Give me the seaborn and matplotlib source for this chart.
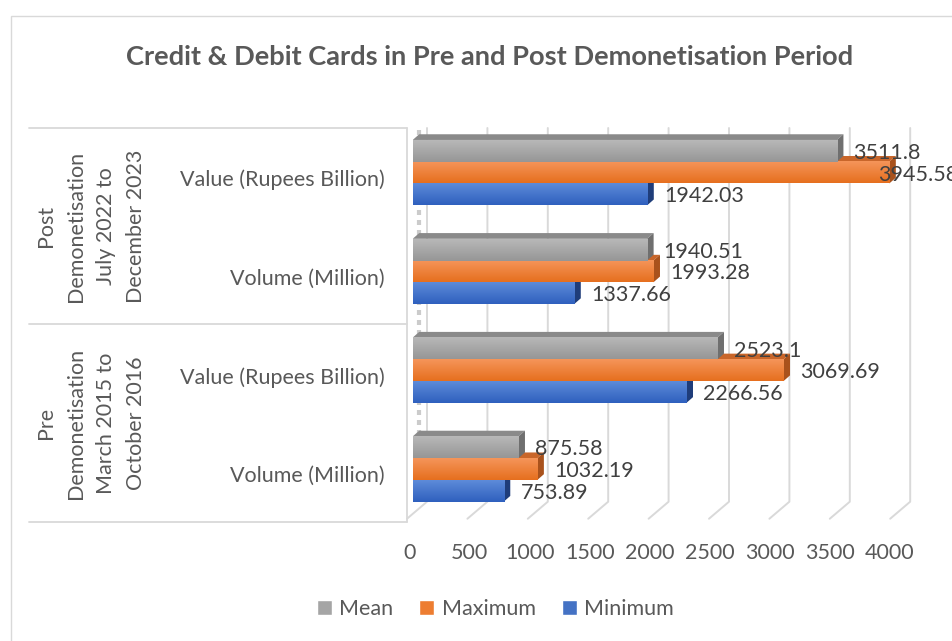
import numpy as np
import pandas as pd
import seaborn as sns
import matplotlib.pyplot as plt
from matplotlib.colors import LinearSegmentedColormap
from matplotlib.lines import Line2D
from matplotlib.patches import Patch, Polygon, Rectangle
from matplotlib.transforms import ScaledTranslation

# --- 1. Data (top to bottom, as in the chart) ---
periods = ["Post\nDemonetisation\nJuly 2022 to\nDecember 2023",
           "Pre\nDemonetisation\nMarch 2015 to\nOctober 2016"]
measures = ["Value (Rupees Billion)", "Volume (Million)"]
series = ["Mean", "Maximum", "Minimum"]
mean_vals = [3511.8, 1940.51, 2523.1, 875.58]
max_vals = [3945.58, 1993.28, 3069.69, 1032.19]
min_vals = [1942.03, 1337.66, 2266.56, 753.89]
xticks = [0, 500, 1000, 1500, 2000, 2500, 3000, 3500, 4000]

rows = [p.split("\n")[0] + " | " + m for p in periods for m in measures]
df = pd.DataFrame({
    "row": rows * 3,
    "series": np.repeat(series, len(rows)),
    "value": mean_vals + max_vals + min_vals,
})

# --- 2. Styling ---
front = {"Mean": "#A5A5A5", "Maximum": "#ED7D31", "Minimum": "#4472C4"}
grad = {"Mean": ("#B8B8B8", "#969696"),
        "Maximum": ("#F5955A", "#E66F1E"),
        "Minimum": ("#5D8BD9", "#2F60BE")}
top_face = {"Mean": "#8A8A8A", "Maximum": "#C9662A", "Minimum": "#2E56A0"}
side_face = {"Mean": "#6F6F6F", "Maximum": "#A9521C", "Minimum": "#1F3D7A"}
FS = 15.5

sns.set_theme(style="white")
plt.rcParams["font.family"] = ["Lato", "DejaVu Sans"]

W, H = 953, 641
fig = plt.figure(figsize=(W / 100, H / 100), dpi=100)


def fx(px):
    return px / W


def fy(py):
    return 1 - py / H


# plot area in pixels
x0_px, x1_px = 412.7, 895.9
top_px, bot_px = 128.0, 521.7
ax = fig.add_axes([fx(x0_px), fy(bot_px), (x1_px - x0_px) / W, (bot_px - top_px) / H])

sns.barplot(data=df, x="value", y="row", hue="series", order=rows, hue_order=series,
            orient="h", width=0.66, palette=front, saturation=1, errorbar=None,
            legend=False, ax=ax)

xmax = 4000
ylim = (3.533, -0.451)
ax.set_xlim(0, xmax)
ax.set_ylim(*ylim)
ax.set_xlabel("")
ax.set_ylabel("")
for s in ax.spines.values():
    s.set_visible(False)

# --- 3. Fake 3D bars: gradient front, top and side faces ---
px_per_x = (x1_px - x0_px) / xmax
px_per_y = (bot_px - top_px) / (ylim[0] - ylim[1])
ddx = 6.5 / px_per_x
ddy = 5.7 / px_per_y

for i, (name, cont) in enumerate(zip(series, ax.containers)):
    z = 10 - 2 * i
    cmap = LinearSegmentedColormap.from_list(name, grad[name])
    for patch in cont:
        bx, by = patch.get_x(), patch.get_y()
        bw, bh = patch.get_width(), patch.get_height()
        patch.set_facecolor("none")
        patch.set_edgecolor("none")
        ax.imshow(np.linspace(0, 1, 64).reshape(-1, 1), extent=(bx, bx + bw, by + bh, by),
                  origin="upper", cmap=cmap, aspect="auto", interpolation="bilinear", zorder=z + 0.5)
        ax.add_patch(Polygon([(bx + ddx, by - ddy), (bx + bw + ddx, by - ddy), (bx + bw, by), (bx, by)],
                             closed=True, fc=top_face[name], ec="none", zorder=z))
        ax.add_patch(Polygon([(bx + bw, by), (bx + bw + ddx, by - ddy), (bx + bw + ddx, by + bh - ddy),
                              (bx + bw, by + bh)], closed=True, fc=side_face[name], ec="none", zorder=z))

ax.set_xlim(0, xmax)
ax.set_ylim(*ylim)

# back wall gridlines with slanted floor lines
wall_off = (427 - x0_px) / px_per_x
floor_off = (407 - x0_px) / px_per_x
y_wall = ylim[1] + (501.7 - top_px) / px_per_y
for t in xticks:
    ax.plot([t + wall_off, t + wall_off, t + floor_off], [ylim[1], y_wall, ylim[0] - 0.03],
            color="#D9D9D9", lw=1.4, zorder=0.5, clip_on=False)

# left wall texture
ax.plot([50, 50], [ylim[1] + 0.02, y_wall], color="#8C8C8C", lw=3, alpha=0.45,
        dashes=(1.2, 1.2), zorder=0.6, clip_on=False)

# --- 4. Axis labels ---
ax.set_xticks(xticks)
ax.set_xticklabels([str(t) for t in xticks])
ax.set_yticks(range(len(rows)))
ax.set_yticklabels(measures * len(periods))
ax.tick_params(axis="x", length=0, pad=15, labelsize=FS, labelcolor="#595959")
ax.tick_params(axis="y", length=0, pad=20, labelsize=FS, labelcolor="#595959")
shift_y = ScaledTranslation(0, -0.05, fig.dpi_scale_trans)
for lab in ax.get_yticklabels():
    lab.set_transform(lab.get_transform() + shift_y)
# tick labels sit on the front edge of the floor, a little left of the bars' scale
for k, lab in enumerate(ax.get_xticklabels()):
    lab.set_transform(lab.get_transform() + ScaledTranslation(-(3 + 0.4 * k) / 100, 0, fig.dpi_scale_trans))

# category table on the left
line_kw = dict(color="#D9D9D9", lw=1.3, transform=fig.transFigure)
for ypx in (top_px, 324, bot_px):
    fig.add_artist(Line2D([fx(29), fx(407)], [fy(ypx), fy(ypx)], **line_kw))
fig.add_artist(Line2D([fx(407), fx(407)], [fy(top_px), fy(bot_px)], **line_kw))
for label, ypx in zip(periods, (226, 423)):
    fig.text(fx(91), fy(ypx), label, rotation=90, ha="center", va="center",
             multialignment="center", fontsize=FS, linespacing=1.62, color="#595959")

# --- 5. Data labels ---
labels = []
for cont in ax.containers:
    for patch in cont:
        v = patch.get_width()
        yc = patch.get_y() + patch.get_height() / 2
        labels.append(ax.annotate(f"{v:g}", xy=(v, yc), xytext=(12, -1.5), textcoords="offset points",
                                  ha="left", va="center", fontsize=FS, color="#404040",
                                  zorder=20, annotation_clip=False))

# --- 6. Title, legend, frame ---
fig.text(fx(490), fy(57), "Credit & Debit Cards in Pre and Post Demonetisation Period",
         ha="center", va="center", fontsize=19.6, fontweight="bold", color="#595959")
handles = [Patch(facecolor=front[s]) for s in series]
fig.legend(handles, series, loc="center", bbox_to_anchor=(fx(495.5), fy(609)), ncol=3,
           frameon=False, fontsize=FS, handlelength=0.7, handleheight=0.7,
           handletextpad=0.35, columnspacing=1.2, labelcolor="#595959")
fig.add_artist(Rectangle((fx(11), -0.1), 1.2, fy(16) + 0.1, transform=fig.transFigure,
                         fill=False, ec="#D9D9D9", lw=1))

# keep the labels inside the chart area, as the spreadsheet does
fig.canvas.draw()
renderer = fig.canvas.get_renderer()
for t in labels:
    bb = t.get_window_extent(renderer)
    if bb.x1 > 958:
        ox, oy = t.xyann
        t.xyann = (ox - (bb.x1 - 958) * 72 / 100, oy)

fig.savefig("out.png", dpi=100)
plt.close()
